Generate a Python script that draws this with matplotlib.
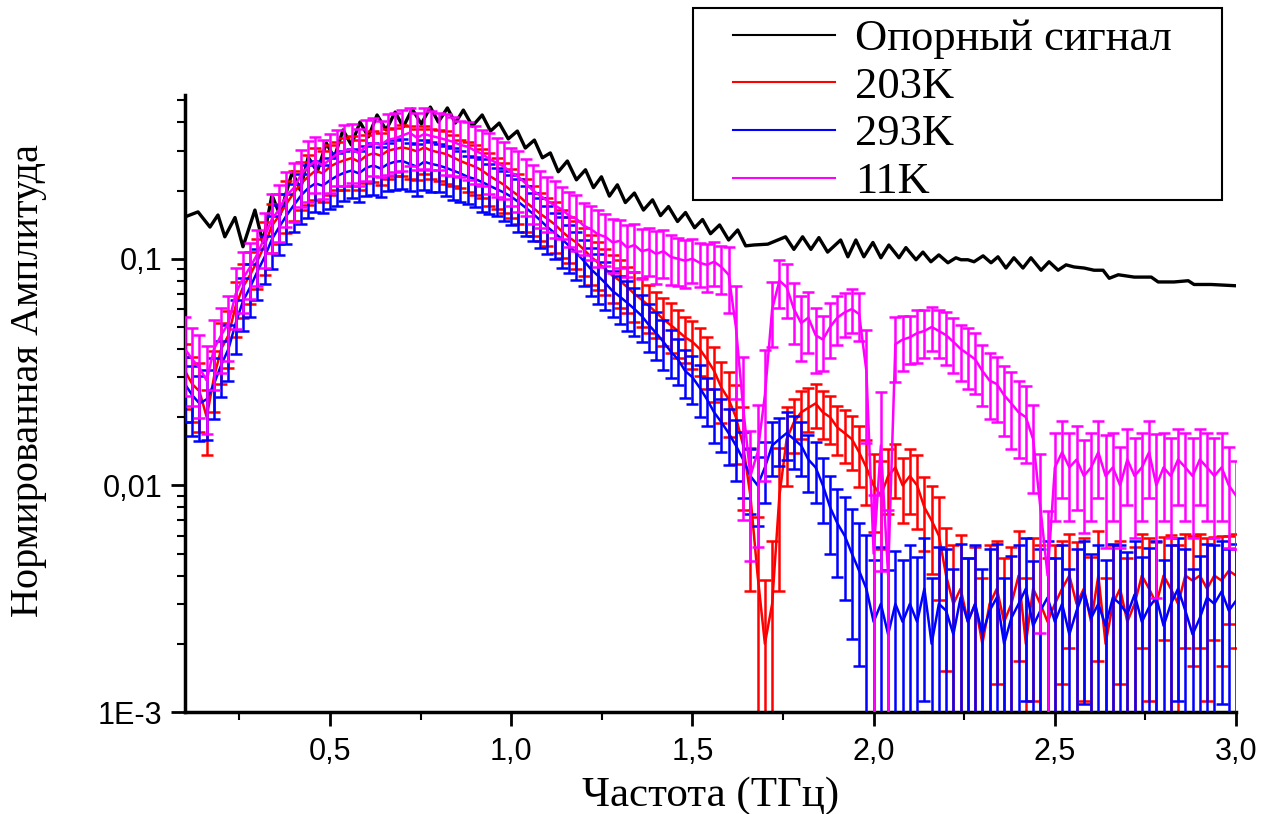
import numpy as np
import matplotlib.pyplot as plt
from matplotlib.patches import Rectangle
from matplotlib.ticker import LogLocator, NullFormatter

# frequency grid of the measured spectra, THz
freq = np.round(np.arange(0.10, 3.001, 0.02), 2)

# reference signal (peaks / troughs of the oscillation)
ref_freq = [0.100, 0.136, 0.169, 0.191, 0.210, 0.238, 0.260, 0.293, 0.315, 0.340,
            0.362, 0.396, 0.418, 0.440, 0.465, 0.490, 0.512, 0.536, 0.559, 0.583,
            0.606, 0.630, 0.655, 0.680, 0.702, 0.727, 0.752, 0.777, 0.799, 0.824,
            0.846, 0.868, 0.893, 0.920, 0.943, 0.967, 0.992, 1.017, 1.039, 1.064,
            1.086, 1.108, 1.130, 1.155, 1.180, 1.205, 1.227, 1.249, 1.271, 1.293,
            1.315, 1.340, 1.365, 1.390, 1.412, 1.434, 1.459, 1.481, 1.506, 1.528,
            1.550, 1.575, 1.600, 1.625, 1.647, 1.669, 1.708, 1.757, 1.780, 1.804,
            1.827, 1.849, 1.873, 1.909, 1.929, 1.951, 1.973, 1.998, 2.020, 2.042,
            2.070, 2.089, 2.117, 2.136, 2.158, 2.180, 2.205, 2.227, 2.241, 2.260,
            2.277, 2.302, 2.324, 2.343, 2.365, 2.387, 2.412, 2.434, 2.462, 2.484,
            2.509, 2.531, 2.553, 2.581, 2.608, 2.633, 2.650, 2.675, 2.719, 2.766,
            2.785, 2.829, 2.868, 2.884, 2.931, 3.000]
ref_amp = [0.153, 0.161, 0.138, 0.156, 0.125, 0.152, 0.113, 0.164, 0.118, 0.191,
           0.156, 0.242, 0.201, 0.281, 0.242, 0.324, 0.279, 0.370, 0.318, 0.401,
           0.345, 0.431, 0.370, 0.444, 0.381, 0.458, 0.393, 0.467, 0.401, 0.463,
           0.397, 0.453, 0.385, 0.431, 0.366, 0.397, 0.338, 0.366, 0.308, 0.334,
           0.279, 0.293, 0.242, 0.270, 0.223, 0.247, 0.206, 0.230, 0.189, 0.212,
           0.177, 0.195, 0.164, 0.182, 0.155, 0.170, 0.146, 0.160, 0.137, 0.149,
           0.129, 0.141, 0.121, 0.134, 0.114, 0.115, 0.116, 0.125, 0.110, 0.125,
           0.110, 0.124, 0.107, 0.121, 0.102, 0.121, 0.102, 0.118, 0.101, 0.115,
           0.101, 0.112, 0.099, 0.107, 0.097, 0.104, 0.096, 0.101, 0.099, 0.099,
           0.097, 0.103, 0.096, 0.102, 0.091, 0.101, 0.091, 0.101, 0.089, 0.097,
           0.089, 0.094, 0.092, 0.091, 0.089, 0.089, 0.082, 0.085, 0.083, 0.083,
           0.079, 0.079, 0.080, 0.077, 0.077, 0.076]

# 203K
amp_203 = [0.032, 0.028, 0.026, 0.020, 0.030, 0.040, 0.046, 0.062, 0.075, 0.085,
           0.098, 0.115, 0.140, 0.155, 0.175, 0.195, 0.215, 0.230, 0.245, 0.238,
           0.255, 0.265, 0.272, 0.278, 0.268, 0.285, 0.292, 0.285, 0.300, 0.305,
           0.310, 0.305, 0.298, 0.310, 0.300, 0.295, 0.290, 0.280, 0.270, 0.262,
           0.255, 0.245, 0.232, 0.222, 0.212, 0.200, 0.190, 0.178, 0.168, 0.158,
           0.150, 0.142, 0.132, 0.124, 0.118, 0.110, 0.102, 0.096, 0.090, 0.084,
           0.080, 0.075, 0.070, 0.066, 0.062, 0.058, 0.054, 0.051, 0.048, 0.045,
           0.043, 0.040, 0.036, 0.032, 0.027, 0.024, 0.020, 0.015, 0.009, 0.004,
           0.002, 0.003, 0.009, 0.016, 0.019, 0.021, 0.022, 0.023, 0.021, 0.020,
           0.018, 0.017, 0.016, 0.014, 0.012, 0.010, 0.009, 0.011, 0.012, 0.010,
           0.011, 0.010, 0.008, 0.007, 0.006, 0.004, 0.003, 0.0035, 0.0025, 0.003,
           0.002, 0.003, 0.0035, 0.0025, 0.003, 0.004, 0.002, 0.0035, 0.003, 0.0025,
           0.003, 0.0035, 0.004, 0.003, 0.0035, 0.0025, 0.004, 0.002, 0.003, 0.0035,
           0.0025, 0.003, 0.004, 0.0035, 0.003, 0.004, 0.0035, 0.003, 0.004, 0.0038,
           0.004, 0.0035, 0.004, 0.0038, 0.0042, 0.004]
rel_203 = [0.32, 0.32, 0.34, 0.32, 0.30, 0.30, 0.28, 0.27, 0.27, 0.26,
           0.25, 0.26, 0.24, 0.25, 0.26, 0.25, 0.24, 0.25, 0.26, 0.25,
           0.25, 0.24, 0.26, 0.25, 0.25, 0.24, 0.25, 0.26, 0.25, 0.24,
           0.25, 0.26, 0.25, 0.24, 0.25, 0.25, 0.26, 0.25, 0.24, 0.25,
           0.25, 0.24, 0.26, 0.25, 0.25, 0.24, 0.25, 0.26, 0.25, 0.24,
           0.24, 0.25, 0.24, 0.23, 0.24, 0.24, 0.25, 0.24, 0.23, 0.24,
           0.24, 0.23, 0.25, 0.24, 0.24, 0.23, 0.24, 0.25, 0.24, 0.23,
           0.24, 0.24, 0.26, 0.27, 0.30, 0.32, 0.38, 0.48, 0.62, 0.82,
           0.92, 0.90, 0.62, 0.38, 0.27, 0.24, 0.22, 0.22, 0.24, 0.24,
           0.24, 0.26, 0.27, 0.30, 0.32, 0.38, 0.42, 0.32, 0.27, 0.32,
           0.32, 0.36, 0.36, 0.42, 0.48, 0.62, 0.82, 0.72, 0.92, 0.78,
           0.95, 0.82, 0.62, 0.92, 0.78, 0.58, 0.95, 0.68, 0.82, 0.92,
           0.82, 0.62, 0.52, 0.88, 0.68, 0.93, 0.58, 0.95, 0.82, 0.62,
           0.92, 0.78, 0.52, 0.68, 0.88, 0.48, 0.72, 0.82, 0.52, 0.58,
           0.52, 0.68, 0.48, 0.58, 0.42, 0.52]

# 293K
amp_293 = [0.028, 0.025, 0.023, 0.024, 0.028, 0.034, 0.040, 0.052, 0.065, 0.075,
           0.088, 0.102, 0.122, 0.138, 0.155, 0.172, 0.190, 0.205, 0.215, 0.210,
           0.222, 0.232, 0.240, 0.245, 0.238, 0.252, 0.258, 0.250, 0.262, 0.268,
           0.270, 0.262, 0.255, 0.268, 0.262, 0.258, 0.252, 0.245, 0.238, 0.230,
           0.225, 0.218, 0.210, 0.203, 0.196, 0.188, 0.178, 0.168, 0.158, 0.148,
           0.138, 0.130, 0.122, 0.114, 0.106, 0.098, 0.090, 0.084, 0.078, 0.072,
           0.068, 0.064, 0.060, 0.056, 0.051, 0.047, 0.043, 0.039, 0.036, 0.032,
           0.030, 0.027, 0.024, 0.021, 0.019, 0.017, 0.015, 0.013, 0.011, 0.010,
           0.012, 0.015, 0.016, 0.017, 0.016, 0.015, 0.013, 0.012, 0.010, 0.008,
           0.0068, 0.006, 0.005, 0.0042, 0.0035, 0.0025, 0.003, 0.0022, 0.003, 0.0025,
           0.003, 0.0025, 0.0035, 0.002, 0.003, 0.0028, 0.0022, 0.0032, 0.0025, 0.003,
           0.0022, 0.0028, 0.0032, 0.002, 0.0026, 0.003, 0.0035, 0.0024, 0.0028, 0.0032,
           0.0025, 0.003, 0.0022, 0.0028, 0.0034, 0.0026, 0.003, 0.0024, 0.0032, 0.003,
           0.0027, 0.0033, 0.0025, 0.0029, 0.0032, 0.0024, 0.003, 0.0035, 0.0028, 0.0022,
           0.0026, 0.0032, 0.003, 0.0034, 0.0028, 0.0031]
rel_293 = [0.32, 0.34, 0.32, 0.34, 0.30, 0.28, 0.28, 0.27, 0.26, 0.26,
           0.25, 0.24, 0.26, 0.25, 0.25, 0.24, 0.25, 0.26, 0.25, 0.24,
           0.25, 0.26, 0.25, 0.24, 0.25, 0.25, 0.26, 0.25, 0.24, 0.25,
           0.25, 0.24, 0.26, 0.25, 0.25, 0.24, 0.25, 0.26, 0.25, 0.24,
           0.25, 0.26, 0.25, 0.24, 0.25, 0.25, 0.26, 0.25, 0.24, 0.25,
           0.24, 0.23, 0.25, 0.24, 0.24, 0.23, 0.24, 0.25, 0.24, 0.23,
           0.24, 0.25, 0.24, 0.23, 0.24, 0.24, 0.25, 0.24, 0.23, 0.24,
           0.24, 0.26, 0.24, 0.27, 0.26, 0.28, 0.30, 0.32, 0.32, 0.34,
           0.30, 0.27, 0.24, 0.24, 0.26, 0.27, 0.28, 0.30, 0.32, 0.38,
           0.42, 0.48, 0.58, 0.62, 0.72, 0.88, 0.78, 0.93, 0.72, 0.88,
           0.82, 0.93, 0.68, 0.95, 0.78, 0.88, 0.95, 0.72, 0.92, 0.82,
           0.95, 0.88, 0.72, 0.95, 0.88, 0.82, 0.68, 0.93, 0.88, 0.78,
           0.92, 0.82, 0.95, 0.88, 0.68, 0.92, 0.82, 0.95, 0.72, 0.82,
           0.88, 0.72, 0.93, 0.82, 0.78, 0.95, 0.82, 0.68, 0.88, 0.95,
           0.88, 0.72, 0.82, 0.68, 0.88, 0.78]

# 11K
amp_11 = [0.040, 0.036, 0.033, 0.029, 0.040, 0.046, 0.052, 0.070, 0.082, 0.092,
          0.105, 0.125, 0.150, 0.165, 0.190, 0.205, 0.235, 0.255, 0.270, 0.258,
          0.275, 0.290, 0.300, 0.305, 0.292, 0.315, 0.325, 0.318, 0.335, 0.340,
          0.350, 0.360, 0.342, 0.355, 0.348, 0.342, 0.335, 0.328, 0.318, 0.312,
          0.300, 0.290, 0.275, 0.265, 0.255, 0.240, 0.230, 0.215, 0.200, 0.190,
          0.180, 0.172, 0.165, 0.155, 0.150, 0.140, 0.135, 0.128, 0.125, 0.118,
          0.120, 0.112, 0.115, 0.108, 0.110, 0.105, 0.108, 0.102, 0.100, 0.098,
          0.100, 0.096, 0.094, 0.097, 0.092, 0.085, 0.050, 0.022, 0.011, 0.014,
          0.025, 0.060, 0.080, 0.075, 0.060, 0.052, 0.055, 0.046, 0.044, 0.050,
          0.055, 0.058, 0.060, 0.057, 0.032, 0.005, 0.015, 0.004, 0.042, 0.044,
          0.045, 0.047, 0.048, 0.050, 0.048, 0.046, 0.043, 0.040, 0.038, 0.036,
          0.032, 0.029, 0.028, 0.025, 0.023, 0.021, 0.020, 0.016, 0.008, 0.004,
          0.012, 0.014, 0.012, 0.013, 0.011, 0.012, 0.014, 0.011, 0.012, 0.010,
          0.013, 0.011, 0.012, 0.014, 0.010, 0.012, 0.011, 0.013, 0.012, 0.011,
          0.013, 0.012, 0.011, 0.012, 0.010, 0.009]
rel_11 = [0.38, 0.38, 0.40, 0.42, 0.34, 0.32, 0.32, 0.30, 0.30, 0.28,
          0.28, 0.27, 0.29, 0.28, 0.27, 0.29, 0.28, 0.30, 0.28, 0.29,
          0.29, 0.28, 0.30, 0.29, 0.28, 0.30, 0.29, 0.28, 0.30, 0.29,
          0.30, 0.29, 0.28, 0.30, 0.29, 0.28, 0.30, 0.29, 0.28, 0.29,
          0.29, 0.28, 0.30, 0.29, 0.28, 0.29, 0.30, 0.28, 0.29, 0.28,
          0.27, 0.28, 0.26, 0.27, 0.28, 0.26, 0.27, 0.28, 0.26, 0.27,
          0.24, 0.26, 0.24, 0.25, 0.24, 0.26, 0.24, 0.25, 0.24, 0.24,
          0.22, 0.22, 0.24, 0.22, 0.24, 0.32, 0.52, 0.68, 0.58, 0.62,
          0.58, 0.32, 0.24, 0.27, 0.30, 0.32, 0.30, 0.32, 0.27, 0.27,
          0.24, 0.22, 0.22, 0.24, 0.52, 0.82, 0.72, 0.95, 0.32, 0.27,
          0.24, 0.26, 0.24, 0.22, 0.24, 0.26, 0.27, 0.28, 0.30, 0.30,
          0.30, 0.32, 0.32, 0.34, 0.37, 0.37, 0.37, 0.42, 0.72, 0.92,
          0.42, 0.37, 0.42, 0.40, 0.44, 0.42, 0.37, 0.52, 0.42, 0.47,
          0.37, 0.47, 0.42, 0.37, 0.68, 0.42, 0.47, 0.37, 0.42, 0.47,
          0.37, 0.42, 0.47, 0.42, 0.47, 0.42]

labels = ['Опорный сигнал', '203K', '293K', '11K']
colors = ['black', '#ff0000', '#0000ff', '#ff00ff']

serif = 'Liberation Serif'
tickfont = ['Liberation Sans Narrow', 'Liberation Sans']

fig = plt.figure(figsize=(12.73, 8.14), dpi=100)
ax = fig.add_axes([0.1453, 0.1253, 0.8257, 0.758])

handles = []
ln, = ax.plot(ref_freq, ref_amp, color=colors[0], lw=2.4, zorder=1)
handles.append(ln)

for i, (amp, rel) in enumerate([(amp_203, rel_203), (amp_293, rel_293), (amp_11, rel_11)]):
    y = np.array(amp)
    err = np.array(rel) * y
    lower = np.minimum(err, y * 0.999)
    eb = ax.errorbar(freq, y, yerr=[lower, err], color=colors[i + 1], lw=1.8,
                     elinewidth=1.8, capsize=4.5, capthick=1.8, zorder=2 + i)
    handles.append(eb.lines[0])

ax.set_yscale('log')
ax.set_xlim(0.1, 3.0)
ax.set_ylim(1e-3, 0.528)

ax.set_xticks([0.5, 1.0, 1.5, 2.0, 2.5, 3.0])
ax.set_xticklabels(['0,5', '1,0', '1,5', '2,0', '2,5', '3,0'])
ax.set_xticks([0.25, 0.75, 1.25, 1.75, 2.25, 2.75], minor=True)
ax.set_yticks([1e-3, 1e-2, 1e-1])
ax.set_yticklabels(['1E-3', '0,01', '0,1'])
ax.yaxis.set_minor_locator(LogLocator(base=10, subs=np.arange(2, 10)))
ax.yaxis.set_minor_formatter(NullFormatter())

for lab in ax.get_xticklabels() + ax.get_yticklabels():
    lab.set_family(tickfont)
    lab.set_fontsize(22)

ax.tick_params(which='major', direction='out', length=10, width=2, pad=6)
ax.tick_params(which='minor', direction='out', length=6, width=1.5)
ax.tick_params(axis='x', which='major', pad=8)

for s in ['top', 'right']:
    ax.spines[s].set_visible(False)
for s in ['left', 'bottom']:
    ax.spines[s].set_linewidth(2.5)

ax.set_xlabel('Частота (ТГц)', family=serif, fontsize=31)
ax.set_ylabel('Нормированная Амплитуда', family=serif, fontsize=29)
ax.xaxis.label.set_verticalalignment('center')
ax.yaxis.label.set_verticalalignment('center')
ax.xaxis.set_label_coords(0.5, -0.135)
ax.yaxis.set_label_coords(-0.149, 0.538)

# legend box (drawn separately so its padding matches the original)
fig.patches.append(Rectangle((693 / 1273, 1 - 200 / 814), (1222 - 693) / 1273, 192 / 814,
                             transform=fig.transFigure, fill=False, lw=1.5,
                             ec='black', zorder=10))
leg = fig.legend(handles, labels, loc='upper left', bbox_to_anchor=(733 / 1273, 1 - 19 / 814),
                 prop={'family': serif, 'size': 32}, frameon=False,
                 handlelength=2.3, labelspacing=0.17, borderpad=0,
                 handletextpad=0.45, borderaxespad=0)
for h in leg.get_lines():
    h.set_linewidth(1.5)

fig.savefig('out.png', dpi=100)
